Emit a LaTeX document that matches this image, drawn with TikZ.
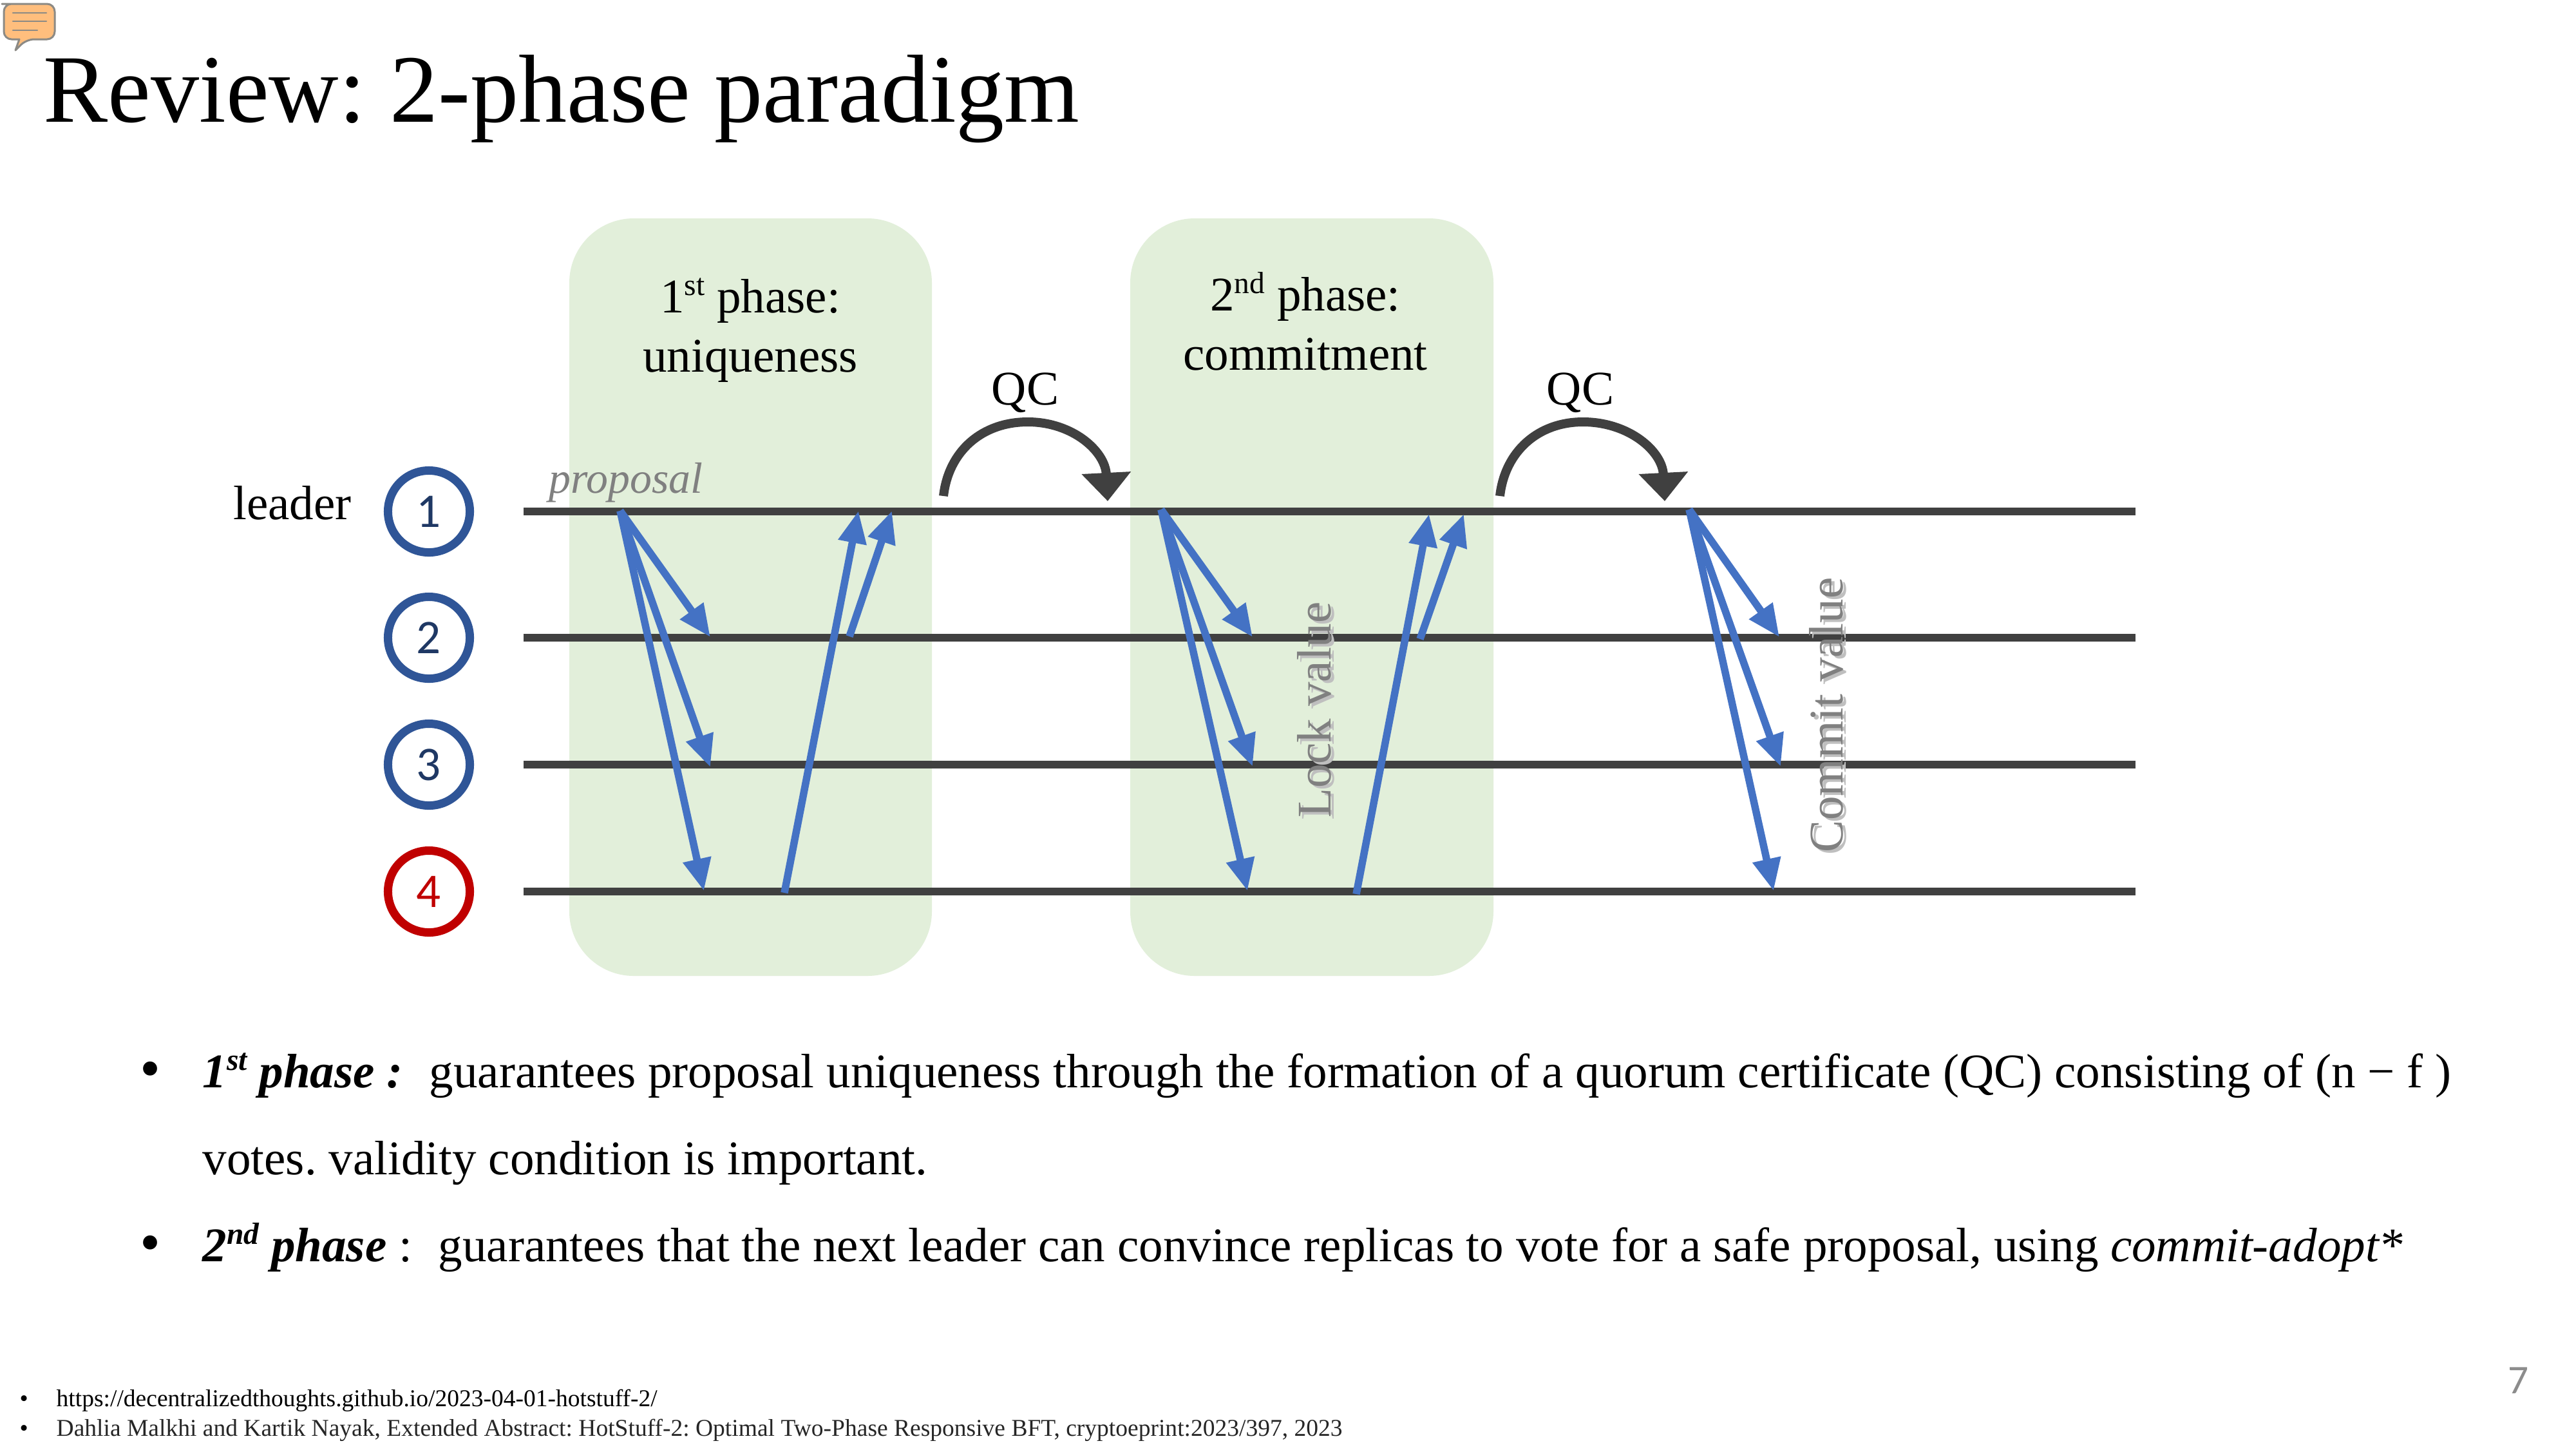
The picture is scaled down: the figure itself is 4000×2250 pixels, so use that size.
\documentclass[tikz,border=0pt]{standalone}
\usepackage{fontspec}
\setmainfont{Liberation Serif}
\newfontfamily\calfont{Carlito}
\usetikzlibrary{arrows.meta}
\definecolor{boxgreen}{HTML}{E2EFDA}
\definecolor{rail}{HTML}{404040}
\definecolor{msg}{HTML}{4472C4}
\definecolor{ringblue}{HTML}{2F5597}
\definecolor{numblue}{HTML}{1F3864}
\definecolor{ringred}{HTML}{C00000}
\definecolor{bubble}{HTML}{FFBE7D}
\definecolor{bubbleline}{HTML}{8C8A85}
\newcommand{\fsz}[1]{\fontsize{#1}{#1}\selectfont}
\newcommand{\fxviii}{\frenchspacing\fsz{21.34pt}}
\newcommand{\sps}[1]{\raisebox{0.36em}{\fsz{13.5pt}#1}}
\begin{document}
\begin{tikzpicture}[x=0.01cm,y=-0.01cm,
  phasebox/.style={fill=boxgreen,draw=none,rounded corners=1cm},
  railline/.style={draw=rail,line width=12.5*0.01cm},
  msgarrow/.style={draw=msg,line width=11.5*0.01cm,-{Triangle[length=0.50cm,width=0.42cm]}},
  qcarrow/.style={draw=rail,line width=14*0.01cm,-{Triangle[length=0.44cm,width=0.74cm]}},
  ring/.style={circle,draw=ringblue,fill=white,line width=13*0.01cm,minimum size=1.27cm,inner sep=0pt,text=numblue,font=\calfont\fxviii},
  redring/.style={ring,draw=ringred,text=ringred},
  txt/.style={inner sep=0pt,anchor=base,font=\fxviii},
  lefttxt/.style={inner sep=0pt,anchor=base west,font=\fxviii},
  bulletmark/.style={inner sep=0pt,anchor=base west,font=\fsz{26pt}},
  vtxt/.style={inner sep=0pt,rotate=90,font=\fxviii,text=black!50},
  vshadow/.style={inner sep=0pt,rotate=90,font=\fxviii,text=black!25},
  foot/.style={inner sep=0pt,anchor=base west,font=\frenchspacing\fsz{10.67pt}}]
\useasboundingbox (0,0) rectangle (4000,2250);
\fill[white] (0,0) rectangle (4000,2250);
% speech bubble icon
\draw[fill=bubble,draw=bubbleline,line width=3*0.01cm,rounded corners=0.12cm,line join=round]
  (15,6) -- (85,6) -- (85,61) -- (41,61) [sharp corners] -- (24,78) -- (30,61) [rounded corners=0.12cm] -- (6,61) -- (6,6) -- cycle;
\draw[bubbleline,line width=2.5*0.01cm,line cap=round] (20,20) -- (72,20) (20,33) -- (72,33) (20,47) -- (58,47);
% title
\node[inner sep=0pt,anchor=base west,font=\frenchspacing\fsz{42.68pt}] (title) at (67,189) {Review: 2-phase paradigm};
% phase boxes
\fill[phasebox] (884,339) rectangle (1447,1515);
\fill[phasebox] (1755,339) rectangle (2319,1515);
\node[txt] (p1a) at (1165,485) {1\sps{st} phase:};
\node[txt] (p1b) at (1165,577) {uniqueness};
\node[txt] (p2a) at (2027,482) {2\sps{nd} phase:};
\node[txt] (p2b) at (2027,574) {commitment};
\node[txt] (qc1) at (1592,628) {QC};
\node[txt] (qc2) at (2454,628) {QC};
\node[txt] (leader) at (454,806) {leader};
\node[lefttxt,font=\fsz{19.3pt}\itshape,text=black!50] (prop) at (852,765) {proposal};
% rails
\foreach \n/\y in {1/794,2/990,3/1187,4/1384}{
  \coordinate (ra\n) at (813,\y);
  \coordinate (rb\n) at (3316,\y);
  \draw[railline] (ra\n) -- (rb\n);
}
% replicas
\node[ring] (n1) at (666,794) {1};
\node[ring] (n2) at (666,990) {2};
\node[ring] (n3) at (666,1187) {3};
\node[redring] (n4) at (666,1384) {4};
% first phase
\coordinate (a0) at (963,793);
\coordinate (a1) at (1103,989);
\coordinate (a2) at (1103,1191);
\coordinate (a3) at (1093,1383);
\coordinate (u1s) at (1218,1386);
\coordinate (u1e) at (1333,793);
\coordinate (u2s) at (1319,988);
\coordinate (u2e) at (1385,793);
\draw[msgarrow] (a0) -- (a1);
\draw[msgarrow] (a0) -- (a2);
\draw[msgarrow] (a0) -- (a3);
\draw[msgarrow] (u1s) -- (u1e);
\draw[msgarrow] (u2s) -- (u2e);
% second phase
\coordinate (b0) at (1803,791);
\coordinate (b1) at (1945,989);
\coordinate (b2) at (1945,1190);
\coordinate (b3) at (1937,1383);
\coordinate (v1s) at (2106,1388);
\coordinate (v1e) at (2219,798);
\coordinate (v2s) at (2205,992);
\coordinate (v2e) at (2273,798);
\draw[msgarrow] (b0) -- (b1);
\draw[msgarrow] (b0) -- (b2);
\draw[msgarrow] (b0) -- (b3);
\draw[msgarrow] (v1s) -- (v1e);
\draw[msgarrow] (v2s) -- (v2e);
% third phase
\coordinate (c0) at (2623,791);
\coordinate (c1) at (2763,989);
\coordinate (c2) at (2765,1190);
\coordinate (c3) at (2754,1383);
\draw[msgarrow] (c0) -- (c1);
\draw[msgarrow] (c0) -- (c2);
\draw[msgarrow] (c0) -- (c3);
% QC arrows
\coordinate (q1s) at (1465,770);
\coordinate (q1t) at (1596,655);
\coordinate (q1e) at (1720,778);
\coordinate (q2s) at (2329,770);
\coordinate (q2t) at (2458,655);
\coordinate (q2e) at (2585,778);
\draw[qcarrow] (q1s) .. controls (1473,700) and (1525,655) .. (q1t) .. controls (1665,655) and (1716,700) .. (q1e);
\draw[qcarrow] (q2s) .. controls (2337,700) and (2389,655) .. (q2t) .. controls (2529,655) and (2581,700) .. (q2e);
% vertical labels
\node[vshadow] (lvs) at (2046,1106) {Lock value};
\node[vtxt] (lv) at (2041,1102) {Lock value};
\node[vshadow] (cvs) at (2841,1114) {Commit value};
\node[vtxt] (cv) at (2836,1110) {Commit value};
% body text
\node[bulletmark] (b1b) at (217,1689) {•};
\node[lefttxt] (b1h) at (314,1688) {\textbf{\textit{1\sps{st} phase :}}};
\node[lefttxt] (b1t) at (666,1688) {guarantees proposal uniqueness through the formation of a quorum certificate (QC) consisting of (n − f )};
\node[lefttxt] (b1u) at (314,1823) {votes. validity condition is important.};
\node[bulletmark] (b2b) at (217,1959) {•};
\node[lefttxt] (b2h) at (314,1958) {\textbf{\textit{2\sps{nd} phase}} :};
\node[lefttxt] (b2t) at (680,1958) {guarantees that the next leader can convince replicas to vote for a safe proposal, using \textit{commit-adopt*}};
% footnotes
\node[foot] (f1b) at (30,2183) {•};
\node[foot] (f1) at (87,2183) {https://decentralizedthoughts.github.io/2023-04-01-hotstuff-2/};
\node[foot] (f2b) at (30,2229) {•};
\node[foot,text=black!85] (f2) at (87,2229) {Dahlia Malkhi and Kartik Nayak, Extended Abstract: HotStuff-2: Optimal Two-Phase Responsive BFT, cryptoeprint:2023/397, 2023};
% slide number
\node[inner sep=0pt,font=\calfont\fsz{18pt},text=black!45] (num) at (3910,2143) {7};
\end{tikzpicture}
\end{document}
